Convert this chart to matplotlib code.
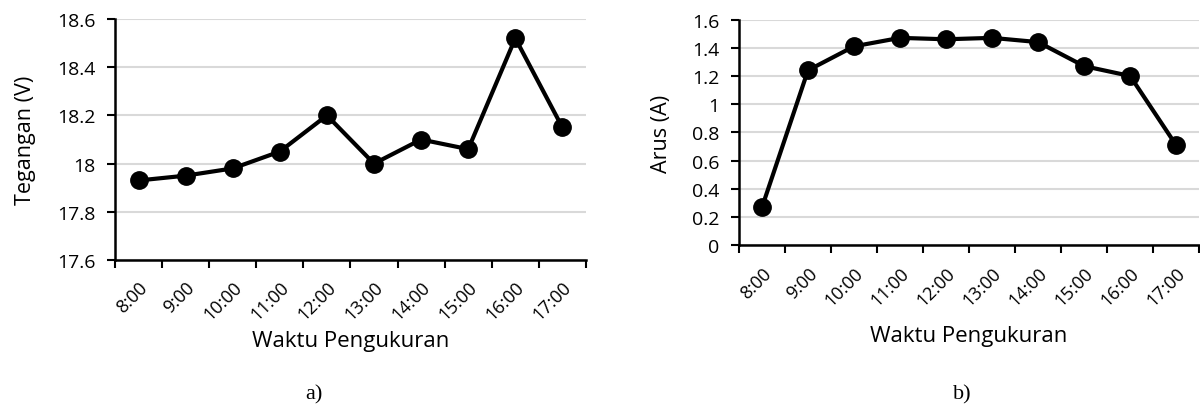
import matplotlib
matplotlib.use("Agg")
import matplotlib.pyplot as plt
import numpy as np

times = ["8:00", "9:00", "10:00", "11:00", "12:00", "13:00", "14:00", "15:00", "16:00", "17:00"]
voltage = [17.93, 17.95, 17.98, 18.05, 18.20, 18.00, 18.10, 18.06, 18.52, 18.15]
current = [0.27, 1.24, 1.41, 1.47, 1.46, 1.47, 1.44, 1.27, 1.20, 0.71]
v_ticks = [17.6, 17.8, 18.0, 18.2, 18.4, 18.6]
v_ticklabels = ["17.6", "17.8", "18", "18.2", "18.4", "18.6"]
i_ticks = [0, 0.2, 0.4, 0.6, 0.8, 1.0, 1.2, 1.4, 1.6]
i_ticklabels = ["0", "0.2", "0.4", "0.6", "0.8", "1", "1.2", "1.4", "1.6"]

plt.rcParams['font.family'] = ['Open Sans', 'DejaVu Sans']

fig = plt.figure(figsize=(12, 4.1), dpi=100)
ax1 = fig.add_axes([0.0958, 0.3634, 0.3925, 0.5878])
ax2 = fig.add_axes([0.6158, 0.3988, 0.3835, 0.5512])


def style(ax, vals, yt, ytl, ylabel):
    x = np.arange(len(times))
    ax.plot(x, vals, color='black', lw=3, marker='o', ms=12.5, zorder=3, clip_on=False)
    ax.set_xlim(-0.5, len(times) - 0.5)
    ax.set_ylim(yt[0], yt[-1])
    ax.set_yticks(yt)
    ax.set_yticklabels(ytl, fontsize=14)
    ax.set_xticks(np.arange(-0.5, len(times), 1.0))
    ax.set_xticklabels([])
    ax.set_xticks(x, minor=True)
    ax.set_xticklabels(times, minor=True, rotation=45, ha='right', va='top',
                       rotation_mode='anchor', fontsize=13)
    ax.tick_params(axis='x', which='minor', length=0, pad=13)
    ax.tick_params(axis='x', which='major', length=6, width=1.5, direction='out')
    ax.tick_params(axis='y', length=6, width=1.5, direction='out', pad=8)
    for s in ['top', 'right']:
        ax.spines[s].set_visible(False)
    for s in ['left', 'bottom']:
        ax.spines[s].set_linewidth(1.8)
    ax.yaxis.grid(True, color='#d9d9d9', lw=1.5)
    ax.set_axisbelow(True)
    ax.set_ylabel(ylabel, fontsize=15.5, va='center')
    ax.set_xlabel("Waktu Pengukuran", fontsize=16, va='center')


style(ax1, voltage, v_ticks, v_ticklabels, "Tegangan (V)")
style(ax2, current, i_ticks, i_ticklabels, "Arus (A)")
ax1.xaxis.set_label_coords(0.5, -0.336)
ax2.xaxis.set_label_coords(0.5, -0.40)
ax1.yaxis.set_label_coords(-0.19, 0.5)
ax2.yaxis.set_label_coords(-0.169, 0.5)

fig.text(314 / 1200, 1 - 395 / 410, "a)", family='Liberation Serif', fontsize=16,
         ha='center', va='center')
fig.text(962 / 1200, 1 - 395 / 410, "b)", family='Liberation Serif', fontsize=16,
         ha='center', va='center')

fig.savefig("out.png", dpi=100)
